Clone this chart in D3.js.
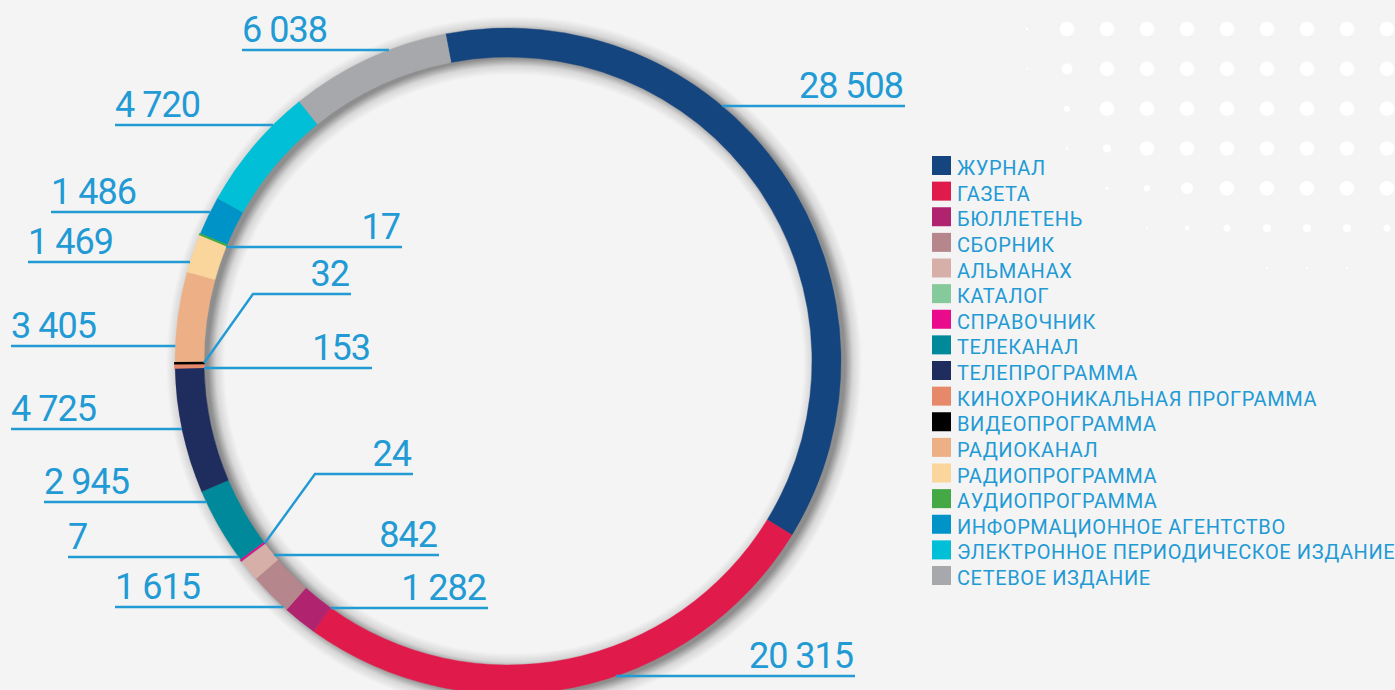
<!DOCTYPE html>
<html>
<head>
<meta charset="utf-8">
<script src="https://cdn.jsdelivr.net/npm/d3@7"></script>
<style>
  html, body { margin: 0; padding: 0; background: #f4f4f4; }
  svg { display: block; }
  .num { font-family: Roboto, "Noto Sans", sans-serif; font-size: 36px; letter-spacing: -1px; fill: #229ad4; }
  .leg { font-family: Roboto, "Noto Sans", sans-serif; font-size: 20px; letter-spacing: 0.6px; fill: #229ad4; }
</style>
</head>
<body>
<div id="chart"></div>
<script>
// categories in ring order (clockwise from the top)
const categories = [
  "ЖУРНАЛ", "ГАЗЕТА", "БЮЛЛЕТЕНЬ", "СБОРНИК", "АЛЬМАНАХ", "КАТАЛОГ",
  "СПРАВОЧНИК", "ТЕЛЕКАНАЛ", "ТЕЛЕПРОГРАММА", "КИНОХРОНИКАЛЬНАЯ ПРОГРАММА",
  "ВИДЕОПРОГРАММА", "РАДИОКАНАЛ", "РАДИОПРОГРАММА", "АУДИОПРОГРАММА",
  "ИНФОРМАЦИОННОЕ АГЕНТСТВО", "ЭЛЕКТРОННОЕ ПЕРИОДИЧЕСКОЕ ИЗДАНИЕ", "СЕТЕВОЕ ИЗДАНИЕ"
];
const values = [28508, 20315, 1282, 1615, 842, 24, 7, 2945, 4725, 153, 32, 3405, 1469, 17, 1486, 4720, 6038];
const colors = [
  "#15457f", "#e01b4c", "#b0246f", "#b5878c", "#d6b0a8", "#86c99a",
  "#ea0a8c", "#00899a", "#1e2d5e", "#e6896a", "#000000", "#edb086",
  "#fad59c", "#44a845", "#0093c8", "#00bfd6", "#a6a8ab"
];

// hand placed callouts: line height, far end of the line, which ring edge it touches
const callouts = [
  { i: 0,  y: 106, far: 905, edge: "outer", side: 1 },
  { i: 1,  y: 676, far: 855, edge: "outer", side: 1 },
  { i: 2,  y: 608, far: 488, edge: "inner", side: -1 },
  { i: 3,  y: 607, far: 115, edge: "outer", side: -1 },
  { i: 4,  y: 555, far: 439, edge: "inner", side: -1 },
  { i: 5,  y: 474, far: 413, elbow: 315 },
  { i: 6,  y: 557, far: 68,  edge: "outer", side: -1 },
  { i: 7,  y: 502, far: 44,  edge: "outer", side: -1 },
  { i: 8,  y: 429, far: 11,  edge: "outer", side: -1 },
  { i: 9,  y: 368, far: 372, edge: "inner", side: -1 },
  { i: 10, y: 294, far: 351, elbow: 253 },
  { i: 11, y: 346, far: 11,  edge: "outer", side: -1 },
  { i: 12, y: 262, far: 28,  edge: "outer", side: -1 },
  { i: 13, y: 247, far: 402, edge: "inner", side: -1 },
  { i: 14, y: 212, far: 51,  edge: "outer", side: -1 },
  { i: 15, y: 125, far: 115, edge: "outer", side: -1 },
  { i: 16, y: 50,  far: 242, edge: "outer", side: -1 }
];

// decorative dot field, top right
const dotRadii = [
  [1.3, 7.3, 7.3, 7.3, 7.3, 7.3, 7.3, 7.3, 7.3, 7.3],
  [1.0, 5.5, 7.3, 7.3, 7.3, 7.3, 7.3, 7.3, 7.3, 7.3],
  [0,   3.0, 7.3, 7.3, 7.3, 7.3, 7.3, 7.3, 7.3, 7.3],
  [0,   1.3, 4.0, 7.3, 7.3, 7.3, 7.3, 7.3, 7.3, 7.3],
  [0,   0,   1.3, 3.2, 6.0, 7.3, 7.3, 7.3, 7.3, 7.3],
  [0,   0,   0,   1.0, 2.3, 3.5, 4.0, 4.0, 4.0, 3.5],
  [0,   0,   0,   0,   0,   0,   1.0, 1.0, 1.0, 0]
];

const W = 1395, H = 690;
const cx = 508, cy = 361, R = 333, r = 304;
const startDeg = -10.8;
const shDx = 6, shDy = 3, shSpread = 15;

const fmt = d3.formatLocale({ decimal: ",", thousands: "\u00a0", grouping: [3], currency: ["", ""] }).format(",d");

const svg = d3.select("#chart").append("svg")
  .attr("width", W).attr("height", H);

svg.append("rect").attr("width", W).attr("height", H).attr("fill", "#f4f4f4");

// soft shadow under the ring, done with a radial gradient
const defs = svg.append("defs");
const shOuter = R + shSpread, shInner = r - shSpread;
const grad = defs.append("radialGradient").attr("id", "ringShadow")
  .attr("gradientUnits", "userSpaceOnUse")
  .attr("cx", 0).attr("cy", 0).attr("r", shOuter);
[[shInner, 0], [r - 6, 0.12], [r + 2, 0.42], [R - 2, 0.42], [R + 6, 0.12], [shOuter, 0]].forEach(([rad, op]) => {
  grad.append("stop").attr("offset", rad / shOuter)
    .attr("stop-color", "#000").attr("stop-opacity", op);
});

// dots
const dotX = d3.scaleLinear().domain([0, 9]).range([1027, 1387]);
const dotY = d3.scaleLinear().domain([0, 6]).range([29, 268]);
const dots = [];
dotRadii.forEach((row, ri) => row.forEach((rad, ci) => { if (rad > 0) dots.push({ ri, ci, rad }); }));
svg.append("g").selectAll("circle").data(dots).join("circle")
  .attr("cx", d => dotX(d.ci)).attr("cy", d => dotY(d.ri))
  .attr("r", d => d.rad).attr("fill", "#ffffff");

svg.append("path")
  .attr("transform", `translate(${cx + shDx},${cy + shDy})`)
  .attr("d", d3.arc().innerRadius(shInner).outerRadius(shOuter).startAngle(0).endAngle(2 * Math.PI)())
  .attr("fill", "url(#ringShadow)");

// ring
const pie = d3.pie().sort(null).value(d => d)
  .startAngle(startDeg * Math.PI / 180)
  .endAngle(startDeg * Math.PI / 180 + 2 * Math.PI);
const arcs = pie(values);
arcs.forEach((a, i) => { a.color = colors[i]; a.small = a.value < 200; });
const arc = d3.arc().innerRadius(r).outerRadius(R);

const ring = svg.append("g").attr("transform", `translate(${cx},${cy})`);
// big slices first, thin ones on top so they still show as a line
ring.selectAll("path")
  .data(arcs.filter(a => !a.small).concat(arcs.filter(a => a.small)))
  .join("path")
  .attr("d", arc)
  .attr("fill", d => d.color)
  .attr("stroke", d => d.color)
  .attr("stroke-width", d => d.small ? 1.8 : 0.4);

// callouts
const blue = "#229ad4";
const lab = svg.append("g");
callouts.forEach(c => {
  const a = arcs[c.i];
  let pts;
  let rightward;
  if (c.elbow !== undefined) {
    const mid = (a.startAngle + a.endAngle) / 2;
    const px = cx + r * Math.sin(mid), py = cy - r * Math.cos(mid);
    pts = [[px, py], [c.elbow, c.y], [c.far, c.y]];
    rightward = true;
  } else {
    const rad = c.edge === "outer" ? R : r;
    const dy = c.y - cy;
    const nx = cx + c.side * Math.sqrt(rad * rad - dy * dy);
    pts = [[nx, c.y], [c.far, c.y]];
    rightward = c.far > nx;
  }
  lab.append("path")
    .attr("d", d3.line()(pts))
    .attr("fill", "none").attr("stroke", blue).attr("stroke-width", 2.4);
  lab.append("text").attr("class", "num")
    .attr("x", rightward ? c.far - 2 : c.far)
    .attr("y", c.y - 8)
    .attr("text-anchor", rightward ? "end" : "start")
    .text(fmt(values[c.i]));
});

// legend
const legY = d3.scaleLinear().domain([0, categories.length - 1]).range([156, 566]);
const leg = svg.append("g").selectAll("g").data(categories).join("g")
  .attr("transform", (d, i) => `translate(932,${legY(i)})`);
leg.append("rect").attr("width", 19).attr("height", 19).attr("fill", (d, i) => colors[i]);
leg.append("text").attr("class", "leg").attr("x", 25).attr("y", 19).text(d => d);
</script>
</body>
</html>
